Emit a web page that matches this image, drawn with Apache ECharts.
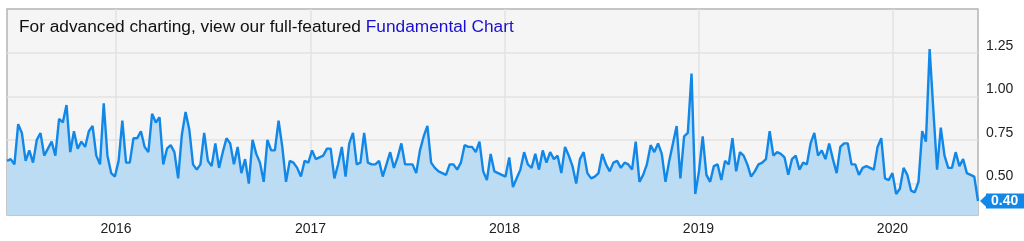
<!DOCTYPE html>
<html>
<head>
<meta charset="utf-8">
<script src="https://cdn.jsdelivr.net/npm/echarts@6/dist/echarts.min.js"></script>
<style>
html,body{margin:0;padding:0;background:#fff;}
#c{width:1024px;height:241px;}
</style>
</head>
<body>
<div id="c"></div>
<script>
// ---- data (weekly values) ----
var startDate = '2015-06-10';
var values = [
  0.63,0.64,0.61,0.84,0.79,0.63,0.69,0.62,0.75,0.79,0.66,0.70,0.74,0.66,0.87,0.85,0.95,0.68,0.80,0.70,0.74,0.71,0.80,0.83,0.66,0.61,0.96,0.66,0.56,0.54,0.63,0.86,0.62,
  0.62,0.76,0.76,0.80,0.71,0.68,0.90,0.85,0.88,0.61,0.70,0.72,0.68,0.53,0.78,0.91,0.81,0.61,0.58,0.61,0.79,0.63,0.60,0.73,0.59,0.68,0.76,0.73,0.61,0.71,0.56,0.64,0.50,0.75,
  0.67,0.62,0.51,0.75,0.69,0.69,0.86,0.71,0.51,0.63,0.62,0.59,0.54,0.63,0.62,0.69,0.64,0.65,0.66,0.70,0.70,0.53,0.61,0.71,0.54,0.73,0.79,0.61,0.62,0.79,0.62,0.61,0.61,0.63,
  0.54,0.61,0.68,0.59,0.65,0.73,0.61,0.61,0.61,0.56,0.69,0.77,0.83,0.62,0.59,0.57,0.56,0.55,0.61,0.61,0.58,0.62,0.72,0.71,0.71,0.68,0.74,0.57,0.52,0.67,0.57,0.56,0.55,
  0.54,0.65,0.48,0.53,0.58,0.68,0.61,0.59,0.67,0.58,0.69,0.62,0.68,0.64,0.66,0.56,0.71,0.66,0.60,0.50,0.64,0.68,0.56,0.53,0.54,0.56,0.67,0.61,0.57,0.62,0.63,0.59,0.62,0.61,
  0.58,0.74,0.51,0.55,0.61,0.72,0.68,0.73,0.67,0.51,0.63,0.73,0.83,0.53,0.77,0.79,1.13,0.44,0.57,0.77,0.55,0.51,0.60,0.61,0.52,0.63,0.61,0.76,0.57,0.68,0.66,0.61,0.54,
  0.57,0.61,0.62,0.64,0.80,0.66,0.68,0.67,0.65,0.55,0.64,0.66,0.58,0.62,0.61,0.73,0.79,0.66,0.69,0.64,0.73,0.64,0.56,0.71,0.73,0.73,0.61,0.61,0.55,0.59,0.60,0.59,0.58,0.71,
  0.76,0.53,0.52,0.56,0.44,0.47,0.59,0.55,0.46,0.45,0.51,0.80,0.74,1.27,0.92,0.58,0.82,0.66,0.59,0.59,0.68,0.60,0.64,0.56,0.55,0.54,0.40
];
var yTickValues = [0.5, 0.75, 1.0, 1.25];
var xTickYears = ['2016', '2017', '2018', '2019', '2020'];
var yMin = 0.32, yMax = 1.50;
var titleText = 'For advanced charting, view our full-featured ';
var titleLink = 'Fundamental Chart';

// build dated points (one per week)
var DAY = 86400000;
var t0 = Date.parse(startDate + 'T00:00:00Z');
var points = values.map(function (v, i) { return [t0 + i * 7 * DAY, v]; });
var xTicks = xTickYears.map(function (y) { return Date.parse(y + '-01-01T00:00:00Z'); });
var last = points[points.length - 1];

var FONT = 'Liberation Sans, Arial, sans-serif';
var chart = echarts.init(document.getElementById('c'), null, {renderer: 'canvas'});
chart.setOption({
  animation: false,
  backgroundColor: '#ffffff',
  textStyle: {fontFamily: FONT},
  title: {
    left: 14, top: 14,
    text: '{a|' + titleText + '}{b|' + titleLink + '}',
    textStyle: {
      fontWeight: 'normal',
      rich: {
        a: {fontSize: 17.3, fontWeight: 'normal', color: '#111111', fontFamily: FONT},
        b: {fontSize: 17.3, fontWeight: 'normal', color: '#1a0fd0', fontFamily: FONT}
      }
    }
  },
  grid: {
    left: 7, right: 46, top: 9, bottom: 26,
    show: true, backgroundColor: '#f5f5f5', borderColor: '#b4b4b4', borderWidth: 1.5
  },
  xAxis: {
    type: 'value',
    min: points[0][0], max: last[0],
    axisLine: {show: false},
    axisTick: {show: false, customValues: xTicks},
    splitLine: {show: true, lineStyle: {color: '#e2e2e2', width: 1.5}},
    axisLabel: {
      customValues: xTicks,
      formatter: function (v) { return new Date(v).getUTCFullYear() + ''; },
      color: '#222', fontSize: 14, margin: 7,
      fontFamily: FONT
    }
  },
  yAxis: {
    type: 'value', position: 'right',
    min: yMin, max: yMax,
    axisLine: {show: false},
    axisTick: {show: false, customValues: yTickValues},
    splitLine: {show: true, lineStyle: {color: '#e2e2e2', width: 1.5}},
    axisLabel: {
      customValues: yTickValues,
      formatter: function (v) { return v.toFixed(2); },
      color: '#222', fontSize: 14, margin: 8, verticalAlign: 'bottom',
      fontFamily: FONT
    }
  },
  series: [{
    type: 'line',
    data: points,
    showSymbol: false,
    clip: false,
    lineStyle: {color: '#1187e8', width: 2.4},
    areaStyle: {color: '#bcdcf4', opacity: 1},
    endLabel: {
      show: true,
      formatter: function (p) { return p.value[1].toFixed(2); },
      color: '#ffffff', fontWeight: 'bold', fontSize: 14,
      backgroundColor: '#1187e8', padding: [1, 8, 0, 5], distance: 8,
      fontFamily: FONT
    },
    markPoint: {
      silent: true,
      symbol: 'path://M0,5 L6,0 L6,10 Z',
      symbolSize: [8, 15],
      symbolOffset: [6, 0],
      itemStyle: {color: '#1187e8'},
      label: {show: false},
      data: [{coord: last}]
    }
  }]
});
</script>
</body>
</html>
